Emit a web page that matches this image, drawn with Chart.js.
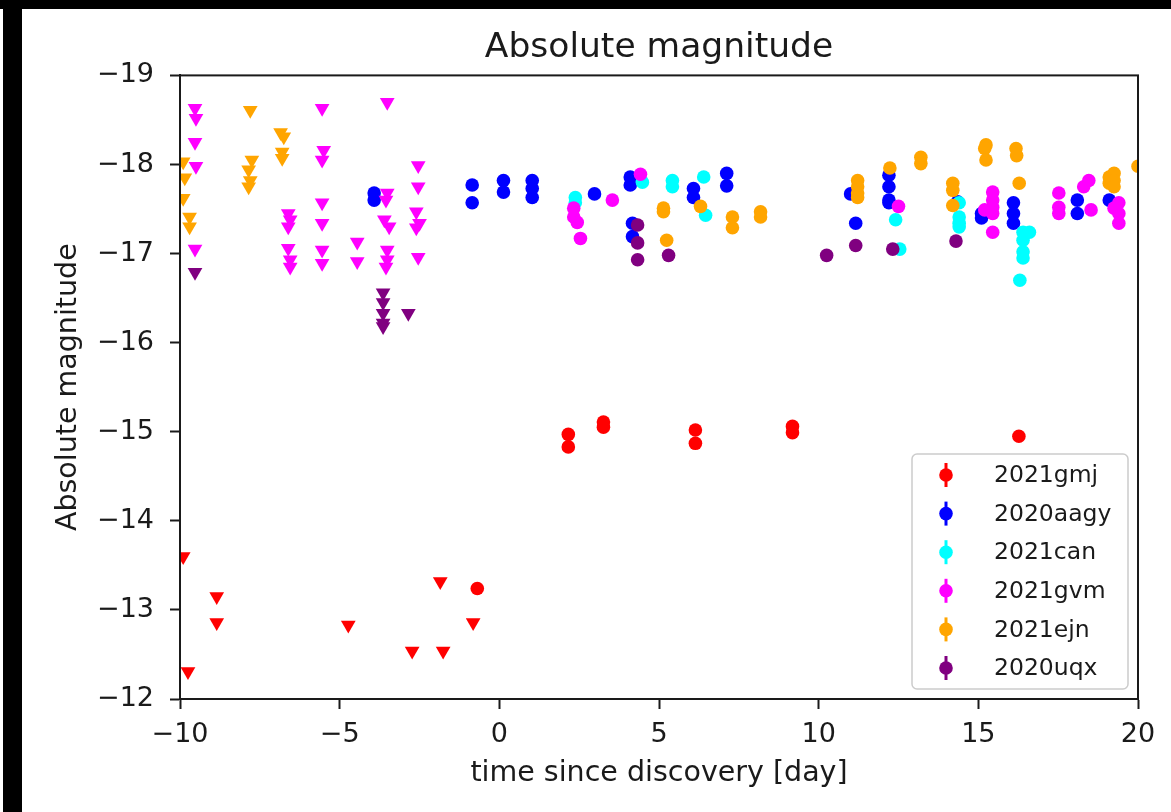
<!DOCTYPE html>
<html>
<head>
<meta charset="utf-8">
<title>Absolute magnitude</title>
<script src="https://cdn.jsdelivr.net/npm/chart.js@4.4.1/dist/chart.umd.min.js"></script>
<style>
  html, body { margin: 0; padding: 0; background: #fff; }
  #wrap { position: relative; width: 1171px; height: 812px; overflow: hidden; }
  #chart { position: absolute; left: 0; top: 0; }
  .bar { position: absolute; background: #000; }
</style>
</head>
<body>
<div id="wrap">
  <canvas id="chart" width="1171" height="812"></canvas>
  <div class="bar" style="left:0;top:0;width:1171px;height:9px"></div>
  <div class="bar" style="left:3px;top:0;width:19px;height:812px"></div>
</div>
<script>
// axis ticks
const xTicks = [-10, -5, 0, 5, 10, 15, 20];
const yTicks = [-19, -18, -17, -16, -15, -14, -13, -12];

const names = ["2021gmj", "2020aagy", "2021can", "2021gvm", "2021ejn", "2020uqx"];
const colors = ["#ff0000", "#0000ff", "#00ffff", "#ff00ff", "#ffa500", "#800080"];

// 2021gmj
const gmjDetT = [-0.69, 2.16, 2.16, 3.26, 3.26, 6.14, 6.14, 9.18, 9.18, 16.27];
const gmjDetM = [-13.24, -14.97, -14.83, -15.11, -15.05, -15.02, -14.87, -15.06, -14.99, -14.95];
const gmjLimT = [-9.9, -9.75, -8.85, -8.85, -4.73, -2.73, -1.85, -1.76, -0.82];
const gmjLimM = [-13.60, -12.31, -13.15, -12.86, -12.83, -12.54, -13.32, -12.54, -12.86];

// 2020aagy
const aagyDetT = [-3.92, -3.92, -0.85, -0.85, 0.13, 0.13, 1.03, 1.03, 1.03, 2.98, 4.1, 4.1, 4.17, 4.17,
  6.08, 6.08, 7.12, 7.12, 11.0, 11.16, 12.2, 12.2, 12.2, 12.2, 14.35, 15.1, 15.1, 16.1, 16.1, 16.1,
  18.1, 18.1, 19.1];
const aagyDetM = [-17.68, -17.60, -17.77, -17.57, -17.82, -17.69, -17.82, -17.73, -17.63, -17.67, -17.86, -17.77, -17.34, -17.19,
  -17.73, -17.63, -17.90, -17.76, -17.67, -17.34, -17.88, -17.75, -17.60, -17.57, -17.58, -17.45, -17.40, -17.57, -17.45, -17.34,
  -17.60, -17.45, -17.60];

// 2021can
const canDetT = [2.38, 2.38, 4.48, 5.42, 5.42, 6.4, 6.46, 12.41, 12.54, 14.4, 14.4, 14.4, 14.4,
  16.4, 16.4, 16.4, 16.4, 16.3, 16.6];
const canDetM = [-17.63, -17.57, -17.80, -17.82, -17.75, -17.86, -17.43, -17.38, -17.05, -17.57, -17.41, -17.34, -17.30,
  -17.24, -17.15, -17.02, -16.95, -16.70, -17.24];

// 2021gvm
const gvmDetT = [2.33, 2.33, 2.44, 2.54, 3.54, 4.42, 12.5, 15.2, 15.45, 15.45, 15.45, 15.45, 15.45,
  17.52, 17.52, 17.52, 18.3, 18.46, 18.53, 19.25, 19.4, 19.4, 19.4];
const gvmDetM = [-17.51, -17.41, -17.35, -17.17, -17.60, -17.89, -17.53, -17.49, -17.69, -17.60, -17.52, -17.45, -17.24,
  -17.68, -17.52, -17.45, -17.75, -17.82, -17.49, -17.51, -17.57, -17.45, -17.34];
const gvmLimT = [-9.53, -9.5, -9.53, -9.5, -9.53,
  -6.61, -6.55, -6.61, -6.61, -6.55, -6.55,
  -5.55, -5.5, -5.55, -5.55, -5.55, -5.55, -5.55,
  -4.45, -4.45,
  -3.51, -3.51, -3.55, -3.6, -3.45, -3.51, -3.51, -3.55,
  -2.54, -2.54, -2.6, -2.5, -2.6, -2.54];
const gvmLimM = [-18.63, -18.52, -18.25, -17.98, -17.05,
  -17.45, -17.38, -17.30, -17.06, -16.93, -16.85,
  -18.63, -18.16, -18.05, -17.57, -17.34, -17.04, -16.89,
  -17.13, -16.91,
  -18.70, -17.68, -17.60, -17.38, -17.30, -17.04, -16.93, -16.85,
  -17.99, -17.75, -17.47, -17.34, -17.29, -16.96];

// 2021ejn
const ejnDetT = [5.14, 5.14, 5.24, 6.3, 7.3, 7.3, 8.18, 8.18, 11.22, 11.22, 11.22, 11.22, 12.23, 13.2, 13.2,
  14.2, 14.2, 14.2, 15.24, 15.2, 15.24, 16.18, 16.2, 16.28, 19.1, 19.1, 19.25, 19.25, 19.25, 20.0];
const ejnDetM = [-17.51, -17.47, -17.15, -17.53, -17.41, -17.29, -17.47, -17.41, -17.82, -17.75, -17.68, -17.63, -17.96, -18.08, -18.01,
  -17.79, -17.71, -17.54, -18.22, -18.18, -18.05, -18.18, -18.10, -17.79, -17.86, -17.79, -17.90, -17.82, -17.75, -17.98];
const ejnLimT = [-9.9, -9.85, -9.9, -9.7, -9.7, -7.8, -7.75, -7.85, -7.8, -7.85, -6.85, -6.75, -6.8, -6.8];
const ejnLimM = [-18.03, -17.85, -17.62, -17.41, -17.30, -18.61, -18.05, -17.94, -17.82, -17.75, -18.36, -18.31, -18.14, -18.07];

// 2020uqx
const uqxDetT = [4.33, 4.33, 4.33, 5.3, 10.25, 11.16, 12.32, 14.3];
const uqxDetM = [-17.32, -17.12, -16.93, -16.98, -16.98, -17.09, -17.05, -17.14];
const uqxLimT = [-9.53, -3.64, -3.64, -3.64, -3.64, -3.64, -2.85];
const uqxLimM = [-16.79, -16.56, -16.45, -16.33, -16.22, -16.18, -16.33];

const detections = [[gmjDetT, gmjDetM], [aagyDetT, aagyDetM], [canDetT, canDetM],
  [gvmDetT, gvmDetM], [ejnDetT, ejnDetM], [uqxDetT, uqxDetM]];
const limits = [[gmjLimT, gmjLimM], null, null, [gvmLimT, gvmLimM], [ejnLimT, ejnLimM], [uqxLimT, uqxLimM]];

function pts(xs, ys) { return xs.map((x, i) => ({ x: x, y: ys[i] })); }
function minus(v) { return v < 0 ? "\u2212" + Math.abs(v) : String(v); }

const FONT = "'DejaVu Sans', sans-serif";
const INK = "#1a1a1a";

const datasets = [];
names.forEach((name, i) => {
  const n = names.length;
  if (limits[i]) {
    datasets.push({
      label: name + " limit", data: pts(limits[i][0], limits[i][1]),
      pointStyle: "triangle", rotation: 180, pointRadius: 8.5, pointBorderWidth: 0,
      backgroundColor: colors[i], borderColor: colors[i], order: 2 * (n - i) + 1, inLegend: false
    });
  }
  datasets.push({
    label: name, data: pts(detections[i][0], detections[i][1]),
    pointStyle: "circle", pointRadius: 6.8, pointBorderWidth: 0,
    backgroundColor: colors[i], borderColor: colors[i], order: 2 * (n - i), inLegend: true
  });
});

// frame round the plot area (matplotlib box)
const frame = {
  id: "frame",
  afterDatasetsDraw(chart) {
    const a = chart.chartArea, ctx = chart.ctx;
    ctx.save();
    ctx.strokeStyle = INK;
    ctx.lineWidth = 2;
    ctx.strokeRect(a.left, a.top, a.right - a.left, a.bottom - a.top);
    ctx.restore();
  }
};

// legend in the lower right corner of the plot
const cornerLegend = {
  id: "cornerLegend",
  afterDraw(chart) {
    const a = chart.chartArea, ctx = chart.ctx;
    const items = chart.data.datasets.filter(d => d.inLegend);
    const w = 216, rowH = 38.6, h = 235;
    const x0 = a.right - 10 - w, y0 = a.bottom - 10 - h;
    ctx.save();
    ctx.fillStyle = "rgba(255,255,255,0.8)";
    ctx.strokeStyle = "#cccccc";
    ctx.lineWidth = 1.5;
    ctx.beginPath();
    ctx.roundRect(x0, y0, w, h, 5);
    ctx.fill();
    ctx.stroke();
    ctx.font = "23.5px " + FONT;
    ctx.textBaseline = "middle";
    items.forEach((d, i) => {
      const cy = y0 + 21 + i * rowH, cx = x0 + 34;
      ctx.strokeStyle = d.backgroundColor;
      ctx.lineWidth = 3;
      ctx.beginPath();
      ctx.moveTo(cx, cy - 12);
      ctx.lineTo(cx, cy + 12);
      ctx.stroke();
      ctx.fillStyle = d.backgroundColor;
      ctx.beginPath();
      ctx.arc(cx, cy, 6.8, 0, Math.PI * 2);
      ctx.fill();
      ctx.fillStyle = INK;
      ctx.fillText(d.label, x0 + 82, cy + 1);
    });
    ctx.restore();
  }
};

new Chart(document.getElementById("chart"), {
  type: "scatter",
  data: { datasets: datasets },
  options: {
    responsive: false,
    animation: false,
    events: [],
    layout: { padding: { left: 22, top: 0, right: 33, bottom: 0 } },
    plugins: {
      legend: { display: false },
      tooltip: { enabled: false },
      title: {
        display: true, text: "Absolute magnitude", fullSize: false, color: INK,
        font: { family: FONT, size: 34.5, weight: "normal" },
        padding: { top: 27, bottom: 7 }
      }
    },
    scales: {
      x: {
        type: "linear", min: xTicks[0], max: xTicks[xTicks.length - 1],
        afterFit(axis) { axis.height = 113; },
        afterBuildTicks(axis) { axis.ticks = xTicks.map(v => ({ value: v })); },
        ticks: { callback: v => minus(v), color: INK, padding: 10, maxRotation: 0,
          font: { family: FONT, size: 27 } },
        grid: { drawOnChartArea: false, drawTicks: true, tickLength: 10, tickWidth: 2, tickColor: INK },
        border: { display: true, color: INK, width: 2 },
        title: { display: true, text: "time since discovery [day]", color: INK,
          font: { family: FONT, size: 28.5 }, padding: { top: 0, bottom: 21 } }
      },
      y: {
        type: "linear", reverse: true, min: yTicks[0], max: yTicks[yTicks.length - 1],
        afterFit(axis) { axis.width = 158; },
        afterBuildTicks(axis) { axis.ticks = yTicks.map(v => ({ value: v })); },
        ticks: { callback: v => minus(v), color: INK, padding: 16,
          font: { family: FONT, size: 27 } },
        grid: { drawOnChartArea: false, drawTicks: true, tickLength: 10, tickWidth: 2, tickColor: INK },
        border: { display: true, color: INK, width: 2 },
        title: { display: true, text: "Absolute magnitude", color: INK,
          font: { family: FONT, size: 28.5 }, padding: { top: 29, bottom: 0 } }
      }
    }
  },
  plugins: [frame, cornerLegend]
});
</script>
</body>
</html>
